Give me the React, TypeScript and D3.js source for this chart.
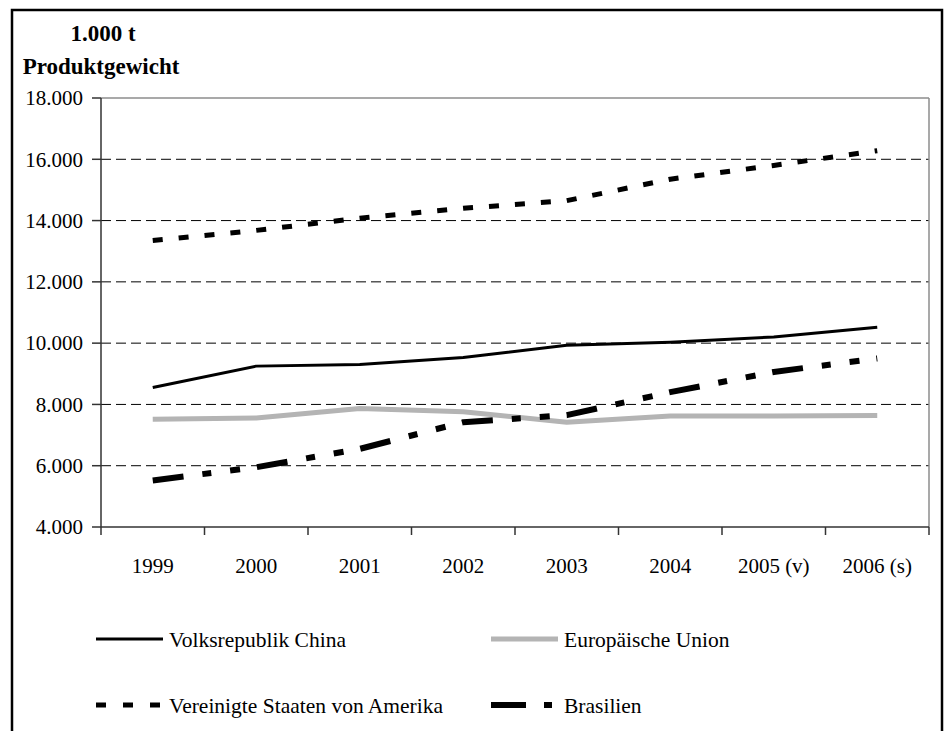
import React from "react";
import * as d3 from "d3";

// Production in 1.000 t product weight
const years = ["1999", "2000", "2001", "2002", "2003", "2004", "2005 (v)", "2006 (s)"];
const china = [8550, 9250, 9300, 9530, 9930, 10030, 10200, 10520];
const eu = [7520, 7560, 7870, 7760, 7420, 7620, 7620, 7640];
const usa = [13350, 13680, 14080, 14400, 14650, 15350, 15800, 16280];
const brazil = [5520, 5950, 6550, 7420, 7650, 8400, 9060, 9500];
const yTicks = [4000, 6000, 8000, 10000, 12000, 14000, 16000, 18000];

const W = 946;
const H = 731;
const plot = { left: 101, right: 929, top: 98, bottom: 527 };

const FONT = "Liberation Serif, Times New Roman, Times, serif";

type Style = { stroke: string; width: number; dash?: string; legendDash?: string };
const seriesList: { name: string; values: number[]; style: Style }[] = [
  { name: "Volksrepublik China", values: china, style: { stroke: "#000", width: 3 } },
  { name: "Europäische Union", values: eu, style: { stroke: "#b4b4b4", width: 5 } },
  {
    name: "Vereinigte Staaten von Amerika",
    values: usa,
    style: { stroke: "#000", width: 5, dash: "10,16", legendDash: "10,17" },
  },
  {
    name: "Brasilien",
    values: brazil,
    style: { stroke: "#000", width: 6, dash: "31,19,9,19,10,17", legendDash: "35,18,8,30" },
  },
];

const fmt = (v: number) => d3.format(",")(v).replace(/,/g, ".");

const txt = { fontFamily: FONT } as React.CSSProperties;

export default function App() {
  const x = d3.scaleBand<string>().domain(years).range([plot.left, plot.right]).padding(0);
  const y = d3.scaleLinear().domain([4000, 18000]).range([plot.bottom, plot.top]);
  const cx = (i: number) => (x(years[i]) as number) + x.bandwidth() / 2;

  const line = (vals: number[]) =>
    d3.line<number>().x((_, i) => cx(i)).y((v) => y(v))(vals) as string;

  const bandEdges = years.map((yr) => x(yr) as number).concat([plot.right]);

  // legend layout: two columns, two rows
  const legendPos = [
    { sx: 96, tx: 169, y: 639 },
    { sx: 491, tx: 564, y: 639 },
    { sx: 96, tx: 169, y: 705 },
    { sx: 491, tx: 564, y: 705 },
  ];
  const sampleLen = 67;

  return (
    <svg
      width={W}
      height={H}
      style={{ position: "absolute", left: 0, top: 0, background: "#fff", fontFamily: FONT }}
    >
      {/* outer frame */}
      <rect x={12} y={10} width={930} height={H + 20} fill="none" stroke="#000" strokeWidth={2.5} />

      {/* unit label */}
      <text x={103} y={41} textAnchor="middle" fontWeight="bold" fontSize={23} style={txt}>
        1.000 t
      </text>
      <text x={101} y={74} textAnchor="middle" fontWeight="bold" fontSize={23} style={txt}>
        Produktgewicht
      </text>

      {/* gridlines */}
      {yTicks
        .filter((t) => t > 4000 && t < 18000)
        .map((t) => (
          <line
            key={"g" + t}
            x1={plot.left}
            x2={plot.right}
            y1={y(t)}
            y2={y(t)}
            stroke="#000"
            strokeWidth={1}
            strokeDasharray="10,5"
          />
        ))}

      {/* plot frame top/right */}
      <line x1={plot.left} x2={plot.right} y1={plot.top} y2={plot.top} stroke="#8c8c8c" strokeWidth={1.5} />
      <line x1={plot.right} x2={plot.right} y1={plot.top} y2={plot.bottom} stroke="#8c8c8c" strokeWidth={1.5} />

      {/* y axis */}
      <line x1={plot.left} x2={plot.left} y1={plot.top} y2={plot.bottom} stroke="#333" strokeWidth={1.5} />
      {yTicks.map((t) => (
        <g key={"yt" + t}>
          <line x1={plot.left - 9} x2={plot.left} y1={y(t)} y2={y(t)} stroke="#333" strokeWidth={1.5} />
          <text x={83} y={y(t)} dy="0.35em" textAnchor="end" fontSize={21} style={txt}>
            {fmt(t)}
          </text>
        </g>
      ))}

      {/* x axis */}
      <line x1={plot.left} x2={plot.right} y1={plot.bottom} y2={plot.bottom} stroke="#333" strokeWidth={1.5} />
      {bandEdges.map((bx, i) => (
        <line key={"xt" + i} x1={bx} x2={bx} y1={plot.bottom} y2={plot.bottom + 8} stroke="#333" strokeWidth={1.5} />
      ))}
      {years.map((yr, i) => (
        <text key={"xl" + yr} x={cx(i)} y={573} textAnchor="middle" fontSize={21} style={txt}>
          {yr}
        </text>
      ))}

      {/* series */}
      {seriesList.map((s) => (
        <path
          key={s.name}
          d={line(s.values)}
          fill="none"
          stroke={s.style.stroke}
          strokeWidth={s.style.width}
          strokeDasharray={s.style.dash}
          strokeLinejoin="round"
        />
      ))}

      {/* legend */}
      {seriesList.map((s, i) => {
        const p = legendPos[i];
        return (
          <g key={"lg" + s.name}>
            <line
              x1={p.sx}
              x2={p.sx + sampleLen}
              y1={p.y}
              y2={p.y}
              stroke={s.style.stroke}
              strokeWidth={s.style.width}
              strokeDasharray={s.style.legendDash}
            />
            <text x={p.tx} y={p.y} dy="0.35em" fontSize={21.5} style={txt}>
              {s.name}
            </text>
          </g>
        );
      })}
    </svg>
  );
}
